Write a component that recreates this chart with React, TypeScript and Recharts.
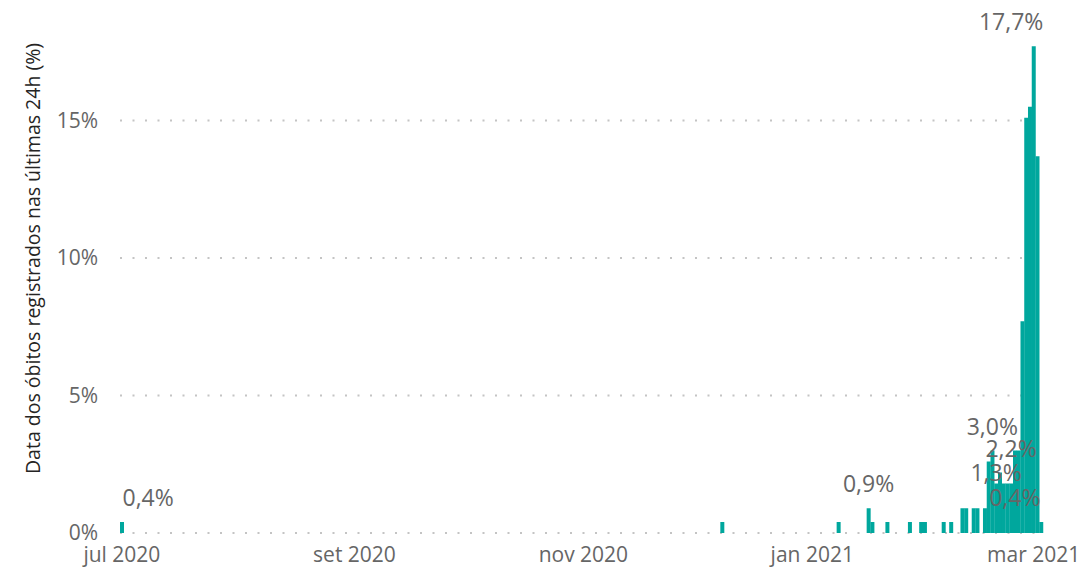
import React from "react";
import {
  ComposedChart,
  Bar,
  Line,
  XAxis,
  YAxis,
  CartesianGrid,
  LabelList,
} from "recharts";

// ---- Data ----
const firstDay = "2020-07-01";
const lastDay = "2021-03-03";

const barDates = [
  "2020-07-01", "2020-12-08", "2021-01-08", "2021-01-16", "2021-01-17",
  "2021-01-21", "2021-01-27", "2021-01-30", "2021-01-31", "2021-02-05",
  "2021-02-07", "2021-02-10", "2021-02-11", "2021-02-13", "2021-02-14",
  "2021-02-16", "2021-02-17", "2021-02-18", "2021-02-19", "2021-02-20",
  "2021-02-21", "2021-02-22", "2021-02-23", "2021-02-24", "2021-02-25",
  "2021-02-26", "2021-02-27", "2021-02-28", "2021-03-01", "2021-03-02",
  "2021-03-03",
];
const barValues = [
  0.4, 0.4, 0.4, 0.9, 0.4,
  0.4, 0.4, 0.4, 0.4, 0.4,
  0.4, 0.9, 0.9, 0.9, 0.9,
  0.9, 2.6, 3.0, 1.8, 2.2,
  1.8, 1.8, 1.8, 3.0, 3.0,
  7.7, 15.1, 15.5, 17.7, 13.7,
  0.4,
];

// data labels as shown in the reference (two layers to avoid overlap)
const labelDatesA = ["2020-07-08", "2021-01-16", "2021-02-18", "2021-02-23"];
const labelValuesA = [0.4, 0.9, 3.0, 17.7];
const labelDatesB = ["2021-02-19", "2021-02-23", "2021-02-24"];
const labelValuesB = [1.3, 2.2, 0.4];

const xTicks = ["2020-07-01", "2020-09-01", "2020-11-01", "2021-01-01", "2021-03-01"];
const xTickLabels = ["jul 2020", "set 2020", "nov 2020", "jan 2021", "mar 2021"];
const yTicks = [0, 5, 10, 15];

const yTitle = "Data dos óbitos registrados nas últimas 24h (%)";

// ---- Build daily table ----
function buildDays(): string[] {
  const out: string[] = [];
  const d = new Date(firstDay + "T00:00:00Z");
  const end = new Date(lastDay + "T00:00:00Z");
  while (d.getTime() <= end.getTime()) {
    out.push(d.toISOString().slice(0, 10));
    d.setUTCDate(d.getUTCDate() + 1);
  }
  return out;
}

const data = buildDays().map((day) => {
  const bi = barDates.indexOf(day);
  const ai = labelDatesA.indexOf(day);
  const li = labelDatesB.indexOf(day);
  return {
    day,
    valor: bi >= 0 ? barValues[bi] : 0,
    rotuloA: ai >= 0 ? labelValuesA[ai] : null,
    rotuloB: li >= 0 ? labelValuesB[li] : null,
  };
});

const FONT = "'Segoe UI', 'Open Sans', 'Noto Sans', sans-serif";
const TEAL = "#00A79D";
const GRAY = "#666666";

const fmtPct = (v: any) =>
  v === null || v === undefined ? "" : Number(v).toFixed(1).replace(".", ",") + "%";

const tickFmt = (v: string) => {
  const i = xTicks.indexOf(v);
  return i >= 0 ? xTickLabels[i] : "";
};

const YTitle = (props: any) => {
  const vb = props.viewBox || {};
  const cx = vb.x + 32;
  const cy = vb.y + vb.height / 2 - 27;
  return (
    <text
      x={cx}
      y={cy}
      transform={`rotate(-90 ${cx} ${cy})`}
      textAnchor="middle"
      dominantBaseline="central"
      fill="#252423"
      fontSize={19.5}
      fontWeight={400}
      fontFamily={FONT}
    >
      {yTitle}
    </text>
  );
};

export default function App() {
  return (
    <div style={{ position: "absolute", left: 0, top: 0, background: "#fff" }}>
      <ComposedChart
        width={1082}
        height={569}
        data={data}
        margin={{ top: 38, right: 39, bottom: 0, left: 0 }}
        barCategoryGap={0}
        barGap={0}
      >
        <CartesianGrid
          vertical={false}
          horizontalValues={yTicks}
          stroke="#C4C4C4"
          strokeWidth={2}
          strokeDasharray="2 10.5"
        />
        <XAxis
          dataKey="day"
          type="category"
          ticks={xTicks}
          interval={0}
          tickFormatter={tickFmt}
          axisLine={false}
          tickLine={false}
          tickSize={0}
          tickMargin={14}
          height={36}
          tick={{ fill: GRAY, fontSize: 21, fontFamily: FONT }}
        />
        <YAxis
          type="number"
          domain={[0, 18]}
          ticks={yTicks}
          width={120}
          axisLine={false}
          tickLine={false}
          tickSize={0}
          tickMargin={22}
          tickFormatter={(v: number) => `${v}%`}
          tick={{ fill: GRAY, fontSize: 21, fontFamily: FONT }}
          label={{ content: YTitle } as any}
        />
        <Bar dataKey="valor" fill={TEAL} isAnimationActive={false} />
        <Line
          dataKey="rotuloA"
          stroke="none"
          dot={false}
          activeDot={false}
          isAnimationActive={false}
          legendType="none"
        >
          <LabelList
            dataKey="rotuloA"
            position="top"
            offset={16}
            formatter={fmtPct}
            fill={GRAY}
            fontSize={23}
            fontFamily={FONT}
          />
        </Line>
        <Line
          dataKey="rotuloB"
          stroke="none"
          dot={false}
          activeDot={false}
          isAnimationActive={false}
          legendType="none"
        >
          <LabelList
            dataKey="rotuloB"
            position="top"
            offset={16}
            formatter={fmtPct}
            fill={GRAY}
            fontSize={23}
            fontFamily={FONT}
          />
        </Line>
      </ComposedChart>
    </div>
  );
}
